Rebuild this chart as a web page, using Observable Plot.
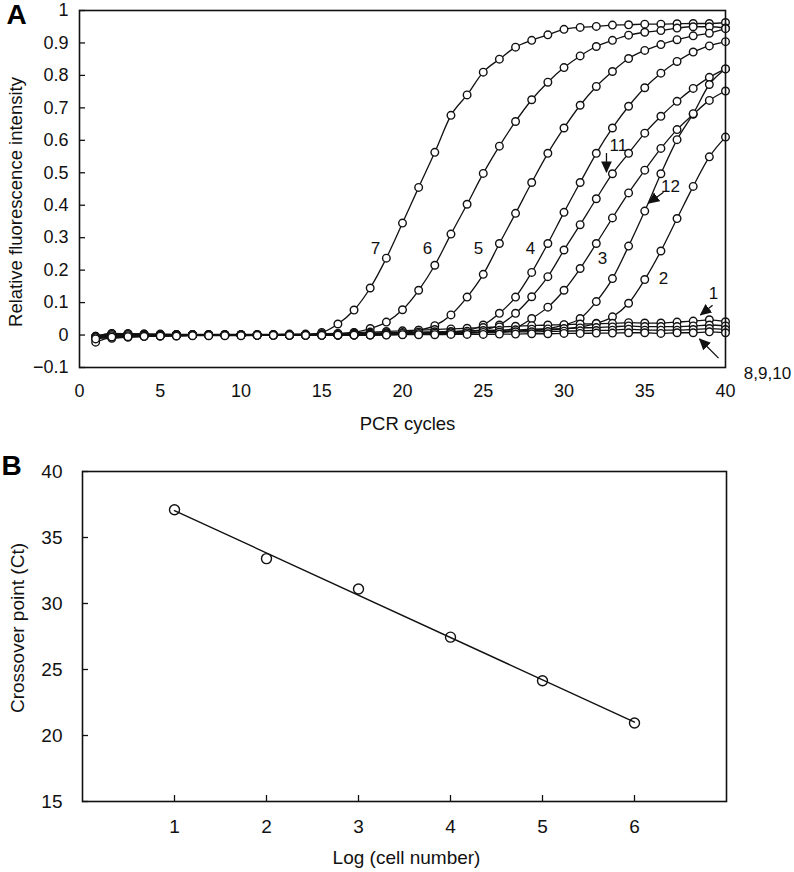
<!DOCTYPE html>
<html>
<head>
<meta charset="utf-8">
<script src="https://cdn.jsdelivr.net/npm/d3@7"></script>
<script src="https://cdn.jsdelivr.net/npm/@observablehq/plot@0.6"></script>
<style>
  html, body { margin: 0; padding: 0; background: #fff; }
  #wrap { width: 794px; height: 872px; overflow: hidden; }
  svg { display: block; }
</style>
</head>
<body>
<div id="wrap"><div id="a"></div><div id="b"></div></div>
<script>
// ---------- Panel A data ----------
const cycles = [1,2,3,4,5,6,7,8,9,10,11,12,13,14,15,16,17,18,19,20,21,22,23,24,25,26,27,28,29,30,31,32,33,34,35,36,37,38,39,40];

const curve7  = [-0.006,0.003,0.003,0.002,0.001,0.001,0.000,0.000,0.000,0.000,0.000,0.000,0.000,0.001,0.008,0.034,0.077,0.145,0.237,0.345,0.455,0.563,0.677,0.740,0.810,0.850,0.887,0.908,0.925,0.942,0.948,0.951,0.955,0.956,0.958,0.958,0.959,0.960,0.960,0.963];
const curve6  = [-0.004,0.005,0.004,0.003,0.002,0.001,0.001,0.000,0.000,0.000,0.000,0.000,0.000,0.000,0.001,0.003,0.008,0.020,0.040,0.078,0.138,0.215,0.311,0.403,0.498,0.582,0.658,0.725,0.779,0.824,0.860,0.889,0.908,0.924,0.933,0.938,0.946,0.950,0.950,0.946];
const curve5  = [-0.008,0.002,0.002,0.001,0.001,0.000,0.000,0.000,0.000,0.000,0.000,0.000,0.000,0.000,0.000,0.001,0.002,0.003,0.005,0.008,0.015,0.029,0.062,0.117,0.187,0.282,0.375,0.470,0.560,0.638,0.708,0.766,0.812,0.852,0.877,0.895,0.910,0.922,0.930,0.944];
const curve4  = [-0.010,-0.002,-0.002,-0.001,-0.001,0.000,0.000,0.000,0.000,0.000,0.000,0.000,0.000,0.000,0.000,0.000,0.001,0.002,0.003,0.004,0.005,0.007,0.009,0.014,0.031,0.067,0.117,0.193,0.282,0.378,0.470,0.560,0.638,0.705,0.762,0.807,0.843,0.872,0.891,0.904];
const curve11 = [-0.005,0.003,0.002,0.002,0.001,0.001,0.000,0.000,0.000,0.000,0.000,0.000,0.000,0.000,0.000,0.001,0.002,0.003,0.004,0.005,0.006,0.008,0.010,0.012,0.016,0.031,0.067,0.118,0.180,0.262,0.340,0.420,0.497,0.560,0.622,0.674,0.720,0.760,0.794,0.820];
const curve3  = [-0.007,-0.004,-0.003,-0.002,-0.001,-0.001,0.000,0.000,0.000,0.000,0.000,0.000,0.000,0.000,0.000,0.000,0.000,0.001,0.002,0.003,0.004,0.005,0.006,0.008,0.010,0.013,0.022,0.051,0.086,0.138,0.205,0.282,0.361,0.438,0.508,0.575,0.633,0.680,0.723,0.752];
const curve12 = [-0.022,-0.008,-0.006,-0.004,-0.003,-0.002,-0.001,0.000,0.000,0.000,0.000,0.000,0.000,0.000,0.000,0.000,0.000,0.001,0.002,0.003,0.004,0.005,0.006,0.007,0.008,0.010,0.012,0.015,0.020,0.031,0.051,0.103,0.174,0.274,0.382,0.497,0.602,0.682,0.772,0.820];
const curve2  = [-0.006,-0.010,-0.006,-0.004,-0.003,-0.002,-0.001,-0.001,0.000,0.000,0.000,0.000,0.000,0.000,0.000,0.000,0.000,0.000,0.001,0.002,0.003,0.004,0.005,0.006,0.008,0.010,0.012,0.014,0.016,0.019,0.025,0.036,0.056,0.098,0.171,0.259,0.359,0.458,0.549,0.610];
const curve1  = [-0.004,0.004,0.004,0.003,0.003,0.002,0.002,0.002,0.002,0.002,0.002,0.002,0.003,0.003,0.004,0.005,0.007,0.009,0.011,0.013,0.015,0.017,0.019,0.021,0.023,0.025,0.027,0.029,0.031,0.032,0.034,0.035,0.036,0.038,0.037,0.037,0.040,0.043,0.047,0.041];
const curve10 = [-0.006,0.002,0.002,0.001,0.001,0.001,0.001,0.001,0.001,0.001,0.001,0.001,0.002,0.002,0.003,0.004,0.005,0.006,0.007,0.008,0.009,0.010,0.011,0.012,0.014,0.015,0.016,0.018,0.019,0.020,0.022,0.023,0.025,0.028,0.026,0.026,0.026,0.028,0.031,0.028];
const curve9  = [-0.008,-0.002,-0.002,-0.001,-0.001,0.000,0.000,0.000,0.000,0.000,0.000,0.000,0.001,0.001,0.002,0.002,0.003,0.003,0.004,0.005,0.005,0.006,0.007,0.007,0.008,0.009,0.010,0.010,0.011,0.012,0.013,0.014,0.015,0.018,0.015,0.015,0.015,0.017,0.020,0.017];
const curve8  = [-0.012,-0.006,-0.005,-0.004,-0.003,-0.003,-0.002,-0.002,-0.002,-0.002,-0.001,-0.001,-0.001,-0.001,-0.001,0.000,0.000,0.000,0.000,0.001,0.001,0.001,0.002,0.002,0.002,0.003,0.003,0.004,0.004,0.005,0.005,0.006,0.006,0.007,0.007,0.005,0.007,0.007,0.010,0.007];

const curveNames = ["7","6","5","4","11","3","12","2","1","10","9","8"];
const curveValues = [curve7, curve6, curve5, curve4, curve11, curve3, curve12, curve2, curve1, curve10, curve9, curve8];

const xTicksA = [0,5,10,15,20,25,30,35,40];
const yTicksA = [-0.1,0,0.1,0.2,0.3,0.4,0.5,0.6,0.7,0.8,0.9,1];

// curve labels (data units) and pointer arrows
const labelTextA = ["7","6","5","4","3","2","1","11","12","8,9,10"];
const labelXA    = [18.33,21.55,24.7,27.93,32.38,36.16,39.26,33.37,36.59,42.6];
const labelYA    = [0.266,0.266,0.266,0.266,0.236,0.175,0.128,0.585,0.458,-0.118];
const arrowX1 = [32.63, 36.16, 39.2, 39.57];
const arrowY1 = [0.561, 0.440, 0.092, -0.071];
const arrowX2 = [32.63, 35.23, 38.45, 38.39];
const arrowY2 = [0.502, 0.406, 0.062, -0.012];

// ---------- Panel B data ----------
const logCells = [1,2,3,4,5,6];
const ctValues = [37.1,33.4,31.1,27.45,24.15,20.95];
const xTicksB = [1,2,3,4,5,6];
const yTicksB = [15,20,25,30,35,40];

// ---------- build tables ----------
const rowsA = [];
curveNames.forEach((name, k) => {
  cycles.forEach((c, i) => rowsA.push({curve: name, cycle: c, value: curveValues[k][i]}));
});
const labelsA = labelTextA.map((t, i) => ({t, x: labelXA[i], y: labelYA[i]}));
const arrowsA = arrowX1.map((x1, i) => ({x1, y1: arrowY1[i], x2: arrowX2[i], y2: arrowY2[i]}));
const rowsB = logCells.map((x, i) => ({x, y: ctValues[i]}));

const FONT = "'Liberation Sans', Arial, Helvetica, sans-serif";

function filledArrow(color) {
  const ns = "http://www.w3.org/2000/svg";
  const m = document.createElementNS(ns, "marker");
  m.setAttribute("viewBox", "-6 -6 12 12");
  m.setAttribute("markerWidth", "9");
  m.setAttribute("markerHeight", "9");
  m.setAttribute("refX", "5");
  m.setAttribute("refY", "0");
  m.setAttribute("orient", "auto");
  const p = document.createElementNS(ns, "path");
  p.setAttribute("d", "M-6,-5.5L6,0L-6,5.5Z");
  p.setAttribute("fill", color || "black");
  p.setAttribute("stroke", "none");
  m.appendChild(p);
  return m;
}
let headMarker = filledArrow;
try { Plot.link([{x1:0,y1:0,x2:1,y2:1}], {x1:"x1",y1:"y1",x2:"x2",y2:"y2",markerEnd: filledArrow}).plot(); }
catch (e) { headMarker = "arrow"; }

const fmtA = d => d === 0 ? "0" : d === 1 ? "1" : (d < 0 ? "\u2212" : "") + Math.abs(d).toFixed(1);
const fmtInt = d => String(d);
const centered = {textAnchor: "middle", lineAnchor: "middle"};

// ---------- Panel A ----------
const WA = 794, HA = 440, mlA = 79, mrA = 69, mtA = 10, mbA = 73;
const plotA = Plot.plot({
  width: WA, height: HA,
  marginLeft: mlA, marginRight: mrA, marginTop: mtA, marginBottom: mbA,
  style: {fontFamily: FONT, fontSize: "18px", color: "#111", background: "#fff", overflow: "visible"},
  x: {domain: [0, 40], ticks: xTicksA, tickSize: 0, tickPadding: 17, tickFormat: fmtInt, label: null},
  y: {domain: [-0.1, 1], ticks: yTicksA, tickSize: 0, tickPadding: 11, tickFormat: fmtA, label: null},
  marks: [
    Plot.tickY(yTicksA, {y: d => d, stroke: "#111", strokeWidth: 1.3, insetRight: (WA - mlA - mrA) - 6}),
    Plot.line(rowsA, {x: "cycle", y: "value", z: "curve", stroke: "#111", strokeWidth: 1.3, curve: "monotone-x"}),
    Plot.dot(rowsA, {x: "cycle", y: "value", r: 3.8, fill: "#fff", stroke: "#111", strokeWidth: 1.4}),
    Plot.frame({stroke: "#111", strokeWidth: 1.6}),
    Plot.link(arrowsA, {x1: "x1", y1: "y1", x2: "x2", y2: "y2", stroke: "#111", strokeWidth: 1.3, markerEnd: headMarker}),
    Plot.text(labelsA, {x: "x", y: "y", text: "t", fontSize: 17, fill: "#111"}),
    Plot.text(["A"], {frameAnchor: "top-left", ...centered, dx: 16 - mlA, dy: 5, fontSize: 28, fontWeight: "bold", fill: "#000"}),
    Plot.text(["Relative fluorescence intensity"], {frameAnchor: "left", ...centered, rotate: -90, dx: 16 - mlA, dy: 13, fontSize: 18.5, fill: "#111"}),
    Plot.text(["PCR cycles"], {frameAnchor: "bottom", ...centered, dx: 5, dy: 57, fontSize: 18.5, fill: "#111"})
  ]
});
document.getElementById("a").appendChild(plotA);

// ---------- Panel B ----------
const WB = 794, HB = 432, mlB = 82, mrB = 68, mtB = 31, mbB = 71;
const plotB = Plot.plot({
  width: WB, height: HB,
  marginLeft: mlB, marginRight: mrB, marginTop: mtB, marginBottom: mbB,
  style: {fontFamily: FONT, fontSize: "19px", color: "#111", background: "#fff", overflow: "visible"},
  x: {domain: [0, 7], ticks: xTicksB, tickSize: 0, tickPadding: 18, tickFormat: fmtInt, label: null},
  y: {domain: [15, 40], ticks: yTicksB, tickSize: 0, tickPadding: 20, tickFormat: fmtInt, label: null},
  marks: [
    Plot.tickY(yTicksB, {y: d => d, stroke: "#111", strokeWidth: 1.3, insetRight: (WB - mlB - mrB) - 6}),
    Plot.tickX(xTicksB, {x: d => d, stroke: "#111", strokeWidth: 1.3, insetTop: (HB - mtB - mbB) - 6}),
    Plot.linearRegressionY(rowsB, {x: "x", y: "y", ci: 0, stroke: "#111", strokeWidth: 1.4}),
    Plot.dot(rowsB, {x: "x", y: "y", r: 5, fill: "none", stroke: "#111", strokeWidth: 1.4}),
    Plot.frame({stroke: "#111", strokeWidth: 1.6}),
    Plot.text(["B"], {frameAnchor: "top-left", ...centered, dx: 11 - mlB, dy: -5, fontSize: 28, fontWeight: "bold", fill: "#000"}),
    Plot.text(["Crossover point (Ct)"], {frameAnchor: "left", ...centered, rotate: -90, dx: 17 - mlB, dy: -8.5, fontSize: 19, fill: "#111"}),
    Plot.text(["Log (cell number)"], {frameAnchor: "bottom", ...centered, dx: 2, dy: 56, fontSize: 19, fill: "#111"})
  ]
});
document.getElementById("b").appendChild(plotB);
</script>
</body>
</html>
